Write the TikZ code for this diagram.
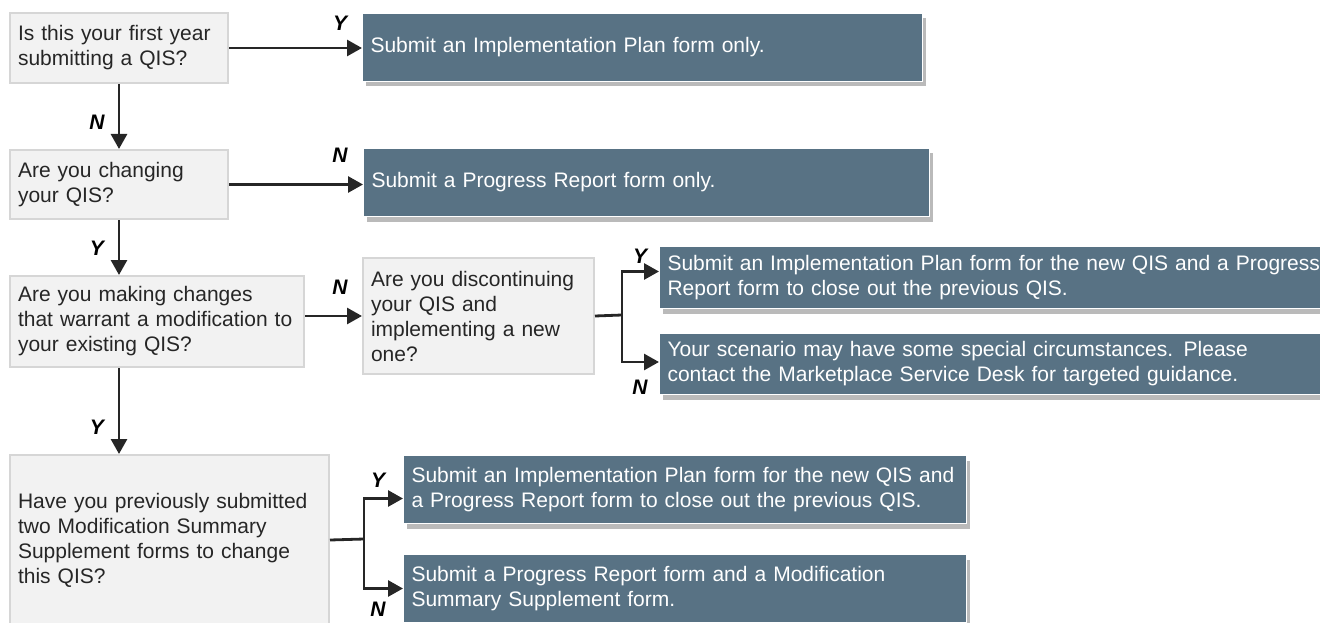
\documentclass[tikz,border=0pt]{standalone}
\usepackage{fontspec}
\setmainfont{Liberation Sans}
\usetikzlibrary{arrows.meta}
\usetikzlibrary{shadows}
\definecolor{mslate}{RGB}{88,114,132}
\definecolor{mpale}{RGB}{242,242,242}
\definecolor{medge}{RGB}{214,214,214}
\definecolor{mdark}{RGB}{38,38,38}
\tikzset{
  question/.style={draw=medge, line width=2pt, fill=mpale, text=mdark, anchor=north west,
    align=left, inner xsep=8pt, inner ysep=0pt, font=\fontsize{21}{25}\selectfont},
  answer/.style={draw=white, line width=1pt, fill=mslate, text=white, anchor=north west,
    align=left, inner xsep=8pt, inner ysep=0pt, font=\fontsize{21}{25}\selectfont,
    drop shadow={shadow xshift=3pt, shadow yshift=-5pt, fill=black!60, opacity=0.45}},
  arrow/.style={mdark, line width=2.8pt, -{Triangle[length=15pt,width=16pt]}},
  branch/.style={mdark, line width=2.8pt},
  yn/.style={font=\fontsize{21}{25}\selectfont\bfseries\itshape, text=black}
}
\begin{document}
\begin{tikzpicture}[x=1pt, y=-1pt]
      \useasboundingbox (0, 0) rectangle (1320, 623);
      \clip (0, 0) rectangle (1320, 623);

      % questions
      \node[question, text width=202pt, minimum height=70pt] (first) at (9, 12) {Is this your first year\\submitting a QIS?};
      \node[question, text width=202pt, minimum height=69pt] (change) at (9, 149) {Are you changing\\your QIS?};
      \node[question, text width=278pt, minimum height=91pt] (modify) at (9, 275) {Are you making changes\\that warrant a modification to\\your existing QIS?};
      \node[question, text width=303pt, minimum height=170pt] (twice) at (9, 454) {Have you previously submitted\\two Modification Summary\\Supplement forms to change\\this QIS?};
      \node[question, text width=215pt, minimum height=116pt] (discont) at (362, 257) {Are you discontinuing\\your QIS and\\implementing a new\\one?};

      % answers
      \node[answer, text width=544pt, minimum height=68pt] (implplan) at (362, 13) {Submit an Implementation Plan form only.};
      \node[answer, text width=550pt, minimum height=68pt] (progress) at (363, 148) {Submit a Progress Report form only.};
      \node[answer, text width=680pt, minimum height=62pt] (newqis) at (659, 246) {Submit an Implementation Plan form for the new QIS and a Progress\\Report form to close out the previous QIS.};
      \node[answer, text width=680pt, minimum height=61pt] (special) at (659, 333) {Your scenario may have some special circumstances. Please\\contact the Marketplace Service Desk for targeted guidance.};
      \node[answer, text width=547pt, minimum height=68pt] (newqisb) at (403, 455) {Submit an Implementation Plan form for the new QIS and\\a Progress Report form to close out the previous QIS.};
      \node[answer, text width=547pt, minimum height=68pt] (modsupp) at (403, 554) {Submit a Progress Report form and a Modification\\Summary Supplement form.};

      % connectors
      \draw[arrow] (first.east) -- (first.east -| implplan.west);
      \draw[arrow] (first.south) -- (first.south |- change.north);
      \draw[arrow] (change.east) -- (change.east -| progress.west);
      \draw[arrow] (change.south) -- (change.south |- modify.north);
      \draw[arrow] (discont.west -| modify.east) -- (discont.west);
      \draw[arrow] (change.south |- modify.south) -- (change.south |- twice.north);

      \coordinate (mfork) at (622, 315);
      \draw[branch] (discont.east) -- (mfork);
      \draw[arrow] (mfork) |- ([yshift=6pt]newqis.west);
      \draw[arrow] (mfork) |- ([yshift=2pt]special.west);

      \coordinate (tfork) at (364, 539);
      \draw[branch] (twice.east) -- (tfork);
      \draw[arrow] (tfork) |- ([yshift=-9pt]newqisb.west);
      \draw[arrow] (tfork) |- (modsupp.west);

      % labels
      \node[yn] (yfirst) at (340, 23) {Y};
      \node[yn] (nfirst) at (97, 122) {N};
      \node[yn] (nchange) at (340, 155) {N};
      \node[yn] (ychange) at (97, 248) {Y};
      \node[yn] (nmodify) at (340, 287) {N};
      \node[yn] (ymodify) at (97, 427) {Y};
      \node[yn] (ydiscont) at (640, 256) {Y};
      \node[yn] (ndiscont) at (640, 387) {N};
      \node[yn] (ytwice) at (378, 480) {Y};
      \node[yn] (ntwice) at (378, 609) {N};
    \end{tikzpicture}
\end{document}
